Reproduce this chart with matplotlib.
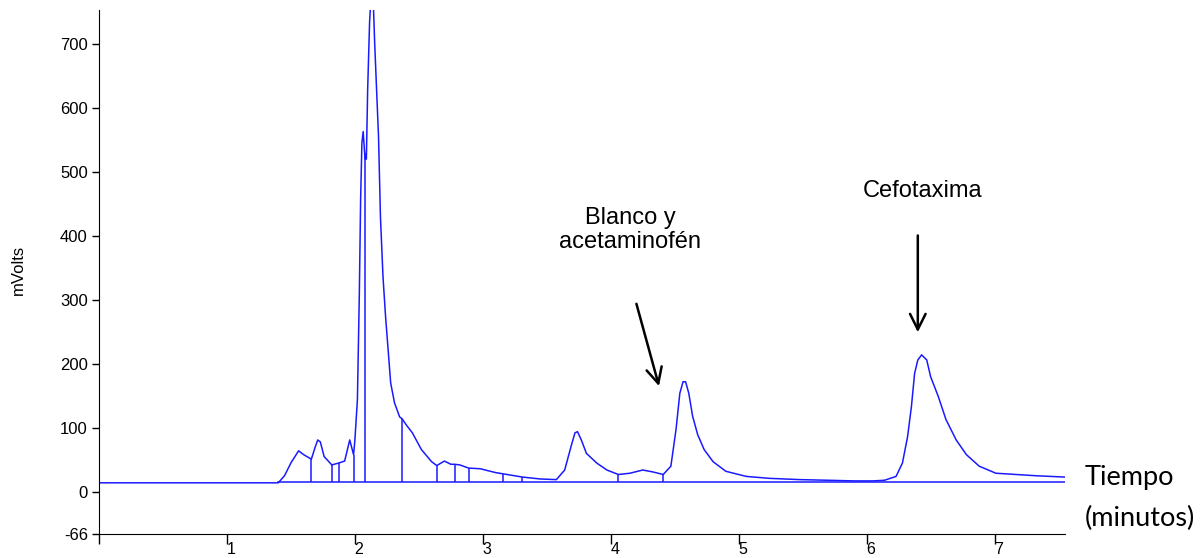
import matplotlib.pyplot as plt
import matplotlib.transforms as mtransforms

plt.rcParams["axes.unicode_minus"] = False

# chromatogram trace (time in minutes, signal in mV)
tiempo = [0.0, 1.40, 1.41, 1.45, 1.50, 1.56, 1.60, 1.66, 1.69, 1.71, 1.73, 1.76, 1.82, 1.875,
          1.92, 1.96, 1.99, 2.00, 2.02, 2.035, 2.045, 2.055, 2.065, 2.075, 2.08, 2.09, 2.10,
          2.115, 2.13, 2.145, 2.155, 2.17, 2.185, 2.20, 2.22, 2.24, 2.26, 2.28, 2.31, 2.35,
          2.37, 2.40, 2.45, 2.52, 2.60, 2.64, 2.70, 2.75, 2.78, 2.82, 2.89, 2.98, 3.10, 3.16,
          3.31, 3.45, 3.575, 3.64, 3.69, 3.72, 3.74, 3.77, 3.81, 3.89, 3.97, 4.06, 4.15,
          4.25, 4.33, 4.41, 4.47, 4.51, 4.54, 4.565, 4.585, 4.61, 4.64, 4.68, 4.73, 4.80,
          4.90, 5.06, 5.24, 5.48, 5.70, 5.90, 6.05, 6.14, 6.23, 6.28, 6.32, 6.35, 6.375,
          6.40, 6.43, 6.47, 6.50, 6.56, 6.62, 6.70, 6.78, 6.88, 7.01, 7.17, 7.33, 7.55]
mvolts = [14, 14, 16, 25, 45, 64, 58, 51, 70, 81, 78, 55, 42, 45,
          48, 81, 58, 80, 144, 310, 456, 545, 563, 534, 520, 520, 628,
          733, 790, 760, 701, 628, 555, 430, 336, 274, 222, 170, 139, 117,
          114, 105, 92, 66, 47, 41, 48, 43, 43, 42, 37, 36, 30, 28,
          23, 20, 19, 34, 71, 92, 94, 81, 60, 45, 34, 27, 29,
          34, 31, 27, 40, 97, 154, 172, 172, 154, 118, 89, 66, 47,
          32, 24, 21, 19, 18, 17, 17, 18, 24, 45, 86, 133, 185,
          206, 214, 206, 180, 149, 113, 81, 58, 40, 29, 27, 25, 23]

# integration drop lines
corte_t = [1.66, 1.82, 1.875, 1.99, 2.08, 2.37, 2.64, 2.78, 2.89, 3.16, 3.31, 4.06, 4.41]
corte_v = [51, 42, 45, 58, 530, 114, 41, 43, 37, 28, 23, 27, 27]
linea_base = 15

azul = "#1a1aff"

fig = plt.figure(figsize=(12.04, 5.58), dpi=100)
ax = fig.add_axes([0.0822, 0.043, 0.8023, 0.939])

ax.plot(tiempo, mvolts, color=azul, lw=1.1)
ax.plot([1.40, 7.55], [linea_base, linea_base], color=azul, lw=1.1)
ax.vlines(corte_t, linea_base, corte_v, color=azul, lw=1.1)

ax.set_xlim(0, 7.55)
ax.set_ylim(-66, 753)
ax.set_xticks(range(0, 8))
ax.set_xticklabels([""] + [str(i) for i in range(1, 8)])
ax.set_yticks([-66, 0, 100, 200, 300, 400, 500, 600, 700])
ax.spines["top"].set_visible(False)
ax.spines["right"].set_visible(False)
ax.tick_params(axis="x", length=7, width=1, labelsize=11.5, pad=-1)
ax.tick_params(axis="y", length=5, width=1, labelsize=12, pad=3)
desplaza = mtransforms.ScaledTranslation(4 / 100, 0, fig.dpi_scale_trans)
for lab in ax.get_xticklabels():
    lab.set_family("Liberation Sans")
    lab.set_transform(lab.get_transform() + desplaza)
for lab in ax.get_yticklabels():
    lab.set_family("Liberation Sans")

fig.text(0.015, 0.516, "mVolts", rotation=90, va="center", ha="center",
         fontsize=12, family="Liberation Sans")

# annotations
ax.annotate("", xy=(4.383, 161), xytext=(4.195, 298),
            arrowprops=dict(arrowstyle="->", lw=1.8, color="black", mutation_scale=28))
ax.text(4.15, 409, "Blanco y\nacetaminofén", ha="center", va="center",
        fontsize=17, family="Liberation Sans", linespacing=1.15)
ax.annotate("", xy=(6.40, 245), xytext=(6.40, 405),
            arrowprops=dict(arrowstyle="->", lw=1.8, color="black", mutation_scale=28))
ax.text(6.44, 470, "Cefotaxima", ha="center", va="center",
        fontsize=17, family="Liberation Sans")

fig.text(0.901, 0.145, "Tiempo", ha="left", va="center", fontsize=19.5, family="Lato")
fig.text(0.901, 0.070, "(minutos)", ha="left", va="center", fontsize=19.5, family="Lato")

plt.savefig("out.png", dpi=100)
